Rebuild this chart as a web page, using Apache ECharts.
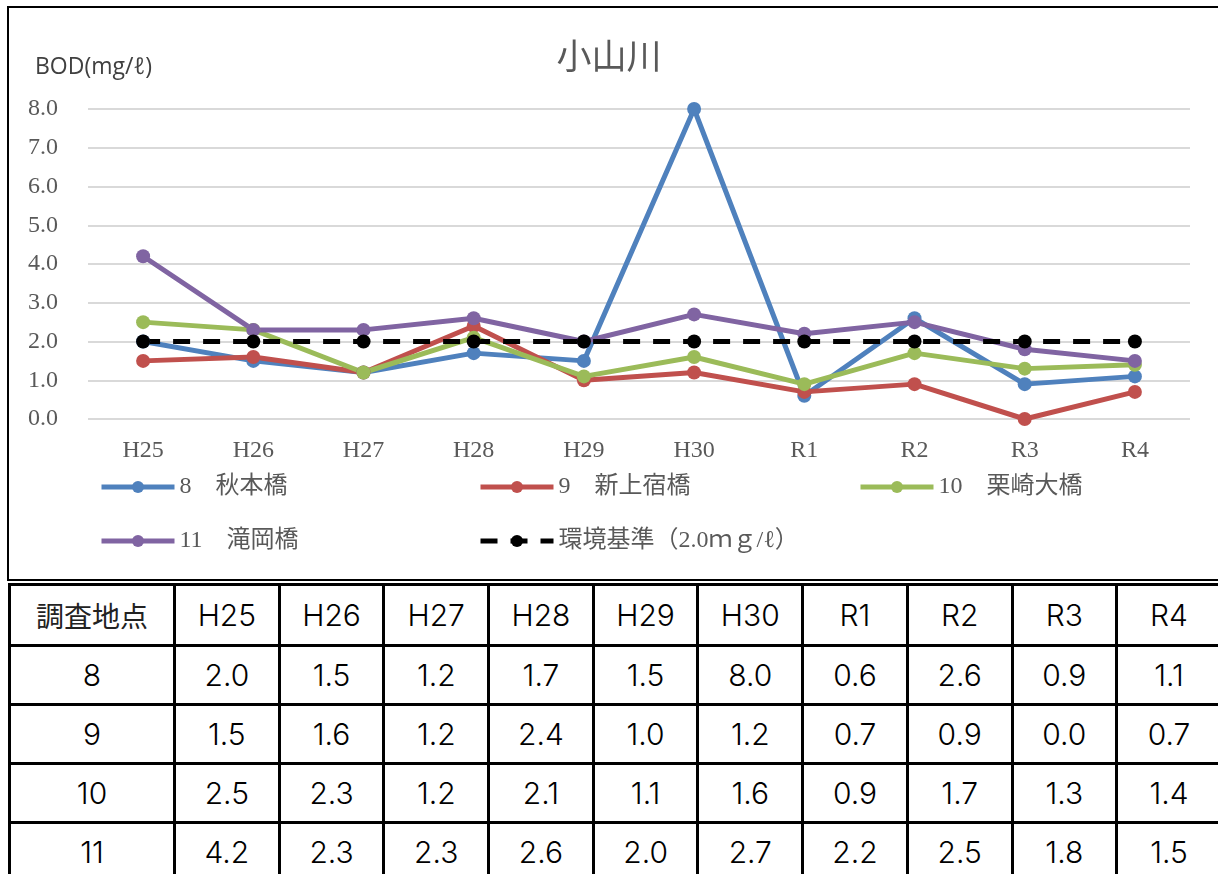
<!DOCTYPE html>
<html>
<head>
<meta charset="utf-8">
<script src="https://cdn.jsdelivr.net/npm/echarts@6/dist/echarts.min.js"></script>
<style>
    body { margin: 0; background: #fff; width: 1218px; height: 874px; overflow: hidden; position: relative; }
    #frame { position: absolute; left: 7px; top: 6px; width: 1240px; height: 571px; border: 2px solid #000; }
    #chart { position: absolute; left: 0; top: 0; width: 1218px; height: 580px; }
    #tbl { position: absolute; left: 8px; top: 583px; border-collapse: collapse; table-layout: fixed; width: 1212px;
        font-family: "Inter", "Liberation Sans", "Noto Sans CJK JP", sans-serif; color: #000; }
    #tbl td { border: 3px solid #000; text-align: center; padding: 0; font-size: 30px; font-weight: 300; height: 56px; }
    #tbl tr:first-child td { height: 58px; }
    #tbl td.head { font-family: "Noto Sans CJK JP", sans-serif; font-size: 28px; font-weight: 400; color: #222; }
</style>
</head>
<body>
<div id="frame"></div>
<div id="chart"></div>
<table id="tbl"></table>
<script>
const years = ["H25", "H26", "H27", "H28", "H29", "H30", "R1", "R2", "R3", "R4"]
const points = ["8", "9", "10", "11"]
const names = ["8　秋本橋", "9　新上宿橋", "10　栗崎大橋", "11　滝岡橋"]
const p8 = [2.0, 1.5, 1.2, 1.7, 1.5, 8.0, 0.6, 2.6, 0.9, 1.1]
const p9 = [1.5, 1.6, 1.2, 2.4, 1.0, 1.2, 0.7, 0.9, 0.0, 0.7]
const p10 = [2.5, 2.3, 1.2, 2.1, 1.1, 1.6, 0.9, 1.7, 1.3, 1.4]
const p11 = [4.2, 2.3, 2.3, 2.6, 2.0, 2.7, 2.2, 2.5, 1.8, 1.5]
const stdName = "環境基準（2.0ｍｇ/ℓ）"
const stdValues = [2.0, 2.0, 2.0, 2.0, 2.0, 2.0, 2.0, 2.0, 2.0, 2.0]

const colors = ["#4F81BD", "#C0504D", "#9BBB59", "#8064A2", "#000000"]
const allData = [p8, p9, p10, p11]
const serifFont = "'Liberation Serif', 'Noto Sans CJK JP'"

// 表
let html = "<colgroup><col style='width:165px'>"
years.forEach(() => { html += "<col style='width:104.7px'>" })
html += "</colgroup><tr><td class='head'>調査地点</td>"
years.forEach((y) => { html += `<td>${y}</td>` })
html += "</tr>"
points.forEach((p, i) => {
    html += `<tr><td>${p}</td>`
    allData[i].forEach((v) => { html += `<td>${v.toFixed(1)}</td>` })
    html += "</tr>"
})
document.getElementById("tbl").innerHTML = html

let chart = echarts.init(document.getElementById("chart"))

const legendPos = [[99, 475], [478, 475], [858, 475], [99, 529], [478, 529]]
const legendNames = names.concat([stdName])

const series = allData.map((d, i) => ({
    name: names[i],
    type: "line",
    data: d,
    symbol: "circle",
    symbolSize: 14,
    color: colors[i],
    lineStyle: { width: 5, color: colors[i] },
    itemStyle: { color: colors[i] },
}))
series.push({
    name: stdName,
    type: "line",
    data: stdValues,
    symbol: "circle",
    symbolSize: 14,
    color: "#000",
    lineStyle: { width: 5, color: "#000", type: [17, 13] },
    itemStyle: { color: "#000" },
})

let option = {
    animation: false,
    title: [
        {
            text: "小山川",
            left: "center",
            top: 33,
            textStyle: { fontFamily: "'Noto Sans CJK JP'", fontSize: 35, fontWeight: "normal", color: "#595959" },
        },
        {
            text: "BOD(mg/ℓ)",
            left: 30,
            top: 51,
            textStyle: { fontFamily: "'Open Sans', 'Noto Sans'", fontSize: 23, fontWeight: "normal", color: "#404040" },
        },
    ],
    legend: legendNames.map((n, i) => ({
        data: [n],
        left: legendPos[i][0],
        top: legendPos[i][1],
        padding: 0,
        itemWidth: 73,
        itemHeight: 15,
        itemGap: 0,
        lineStyle: { width: 5 },
        textStyle: { fontFamily: serifFont, fontSize: 24, color: "#595959" },
    })),
    grid: { left: 88, right: 28, top: 109, bottom: 161 },
    xAxis: {
        type: "category",
        data: years,
        boundaryGap: true,
        axisLine: { show: false },
        axisTick: { show: false },
        axisLabel: { margin: 20, fontFamily: serifFont, fontSize: 24, color: "#595959" },
    },
    yAxis: {
        type: "value",
        min: 0,
        max: 8,
        interval: 1,
        axisLine: { show: false },
        axisTick: { show: false },
        splitLine: { lineStyle: { color: "#D9D9D9", width: 2 } },
        axisLabel: {
            margin: 30,
            fontFamily: serifFont,
            fontSize: 24,
            color: "#595959",
            formatter: (v) => v.toFixed(1),
        },
    },
    series: series,
}

option && chart.setOption(option)
</script>
</body>
</html>
